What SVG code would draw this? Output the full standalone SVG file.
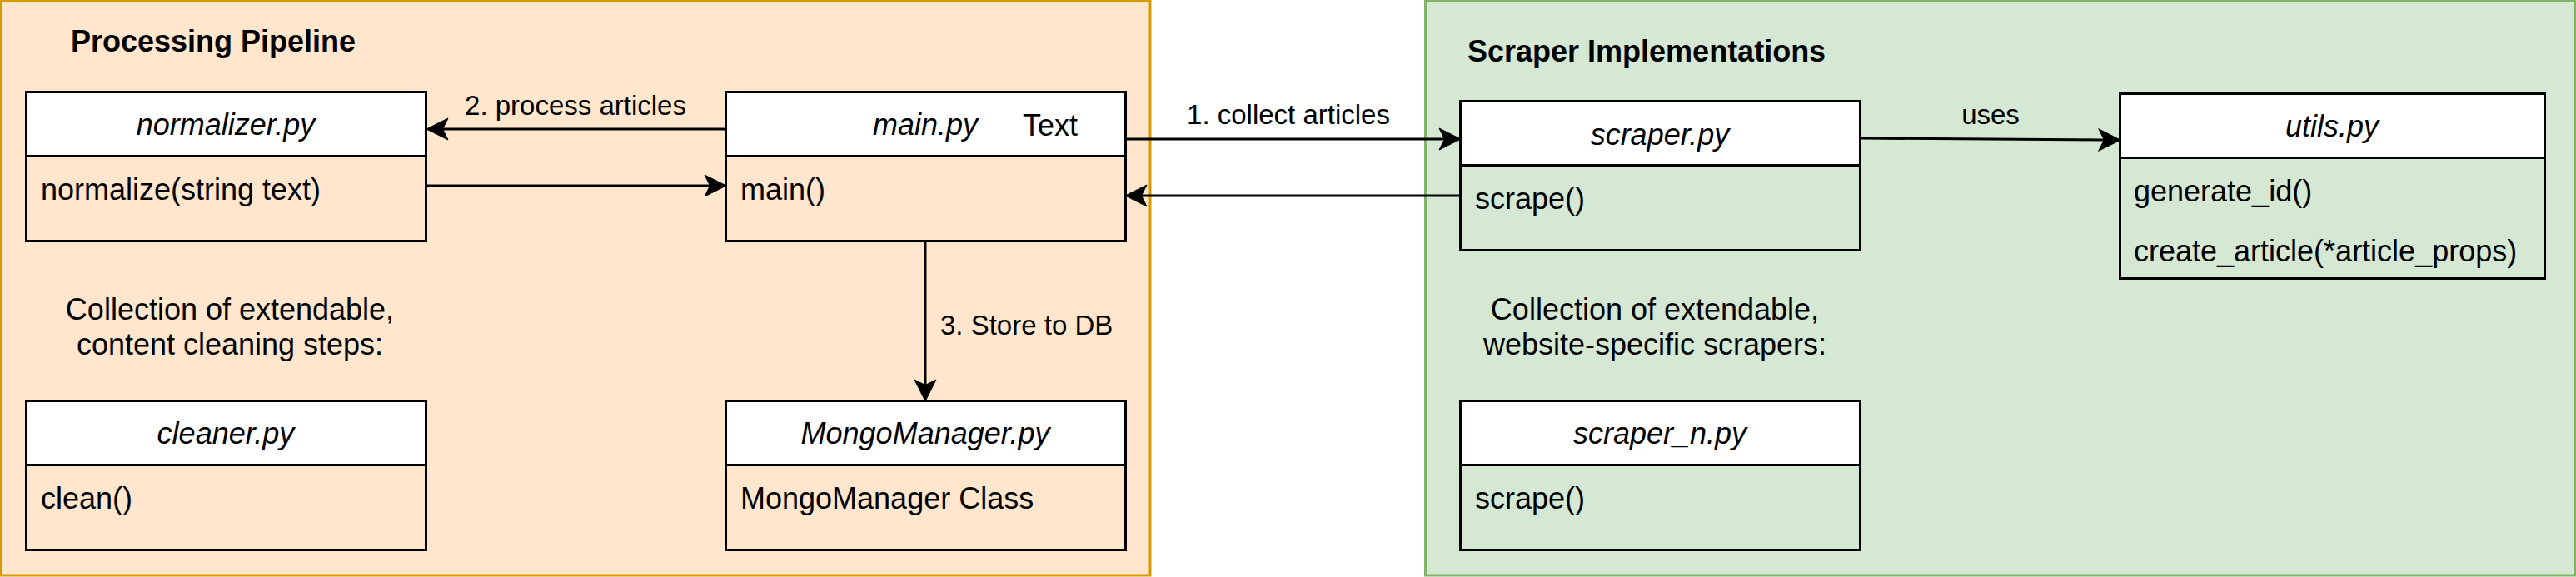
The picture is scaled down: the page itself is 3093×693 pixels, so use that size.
<svg xmlns="http://www.w3.org/2000/svg" width="3093" height="693" viewBox="0 0 3093 693">
<style>
text{font-family:"Liberation Sans",Arial,Helvetica,sans-serif;fill:#000;}
.t36{font-size:36px;}
.t33{font-size:33px;}
.b{font-weight:bold;}
.i{font-style:italic;}
.mid{text-anchor:middle;}
.hdr{fill:#fff;stroke:#000;stroke-width:3;}
.body{fill:none;stroke:#000;stroke-width:3;}
.edge{fill:none;stroke:#000;stroke-width:3;}
</style>
<defs>
<marker id="arr" markerUnits="userSpaceOnUse" markerWidth="28" markerHeight="28" viewBox="0 0 28 28" refX="7" refY="14" orient="auto">
<path d="M27,14 L1,1 L7.5,14 L1,27 Z" fill="#000" stroke="#000" stroke-width="1"/>
</marker>
</defs>
<g id="container-pipeline">
<rect x="1.5" y="1.5" width="1379.5" height="689.5" fill="#ffe6cc" stroke="#d79b00" stroke-width="3"/>
<text class="t36 b" x="85" y="62">Processing Pipeline</text>
<text class="t36 mid" x="276" y="384">Collection of extendable,</text>
<text class="t36 mid" x="276" y="426">content cleaning steps:</text>
</g>
<g id="container-scrapers">
<rect x="1711.5" y="1.5" width="1380" height="689.5" fill="#d5e8d4" stroke="#82b366" stroke-width="3"/>
<text class="t36 b" x="1762" y="74">Scraper Implementations</text>
<text class="t36 mid" x="1987" y="384">Collection of extendable,</text>
<text class="t36 mid" x="1987" y="426">website-specific scrapers:</text>
</g>
<g id="node-normalizer">
<rect class="body" x="31.5" y="110.5" width="480" height="179"/>
<rect class="hdr" x="31.5" y="110.5" width="480" height="77"/>
<text class="t36 i mid" x="271" y="162">normalizer.py</text>
<text class="t36" x="49" y="240">normalize(string text)</text>
</g>
<g id="node-main">
<rect class="body" x="871.5" y="110.5" width="480" height="179"/>
<rect class="hdr" x="871.5" y="110.5" width="480" height="77"/>
<text class="t36 i mid" x="1111" y="162">main.py</text>
<text class="t36 mid" x="1261" y="163">Text</text>
<text class="t36" x="889" y="240">main()</text>
</g>
<g id="node-cleaner">
<rect class="body" x="31.5" y="481.5" width="480" height="179"/>
<rect class="hdr" x="31.5" y="481.5" width="480" height="77"/>
<text class="t36 i mid" x="271" y="533">cleaner.py</text>
<text class="t36" x="49" y="611">clean()</text>
</g>
<g id="node-mongomanager">
<rect class="body" x="871.5" y="481.5" width="480" height="179"/>
<rect class="hdr" x="871.5" y="481.5" width="480" height="77"/>
<text class="t36 i mid" x="1111" y="533">MongoManager.py</text>
<text class="t36" x="889" y="611">MongoManager Class</text>
</g>
<g id="node-scraper">
<rect class="body" x="1753.5" y="121.5" width="480" height="179"/>
<rect class="hdr" x="1753.5" y="121.5" width="480" height="77"/>
<text class="t36 i mid" x="1993" y="174">scraper.py</text>
<text class="t36" x="1771" y="251">scrape()</text>
</g>
<g id="node-scraper-n">
<rect class="body" x="1753.5" y="481.5" width="480" height="179"/>
<rect class="hdr" x="1753.5" y="481.5" width="480" height="77"/>
<text class="t36 i mid" x="1993" y="533">scraper_n.py</text>
<text class="t36" x="1771" y="611">scrape()</text>
</g>
<g id="node-utils">
<rect class="body" x="2545.5" y="112.5" width="510" height="222"/>
<rect class="hdr" x="2545.5" y="112.5" width="510" height="77"/>
<text class="t36 i mid" x="2800" y="164">utils.py</text>
<text class="t36" x="2562" y="242">generate_id()</text>
<text class="t36" x="2562" y="314">create_article(*article_props)</text>
</g>
<g id="connectors">
<path class="edge" d="M871,155 L532,155" marker-end="url(#arr)"/>
<text class="t33 mid" x="691" y="138">2. process articles</text>
<path class="edge" d="M511,223 L852,223" marker-end="url(#arr)"/>
<path class="edge" d="M1351,167 L1734,167" marker-end="url(#arr)"/>
<text class="t33 mid" x="1547" y="149">1. collect articles</text>
<path class="edge" d="M1753,235 L1371,235" marker-end="url(#arr)"/>
<path class="edge" d="M2233,166 L2526,168" marker-end="url(#arr)"/>
<text class="t33 mid" x="2390" y="149">uses</text>
<path class="edge" d="M1111,289 L1111,462" marker-end="url(#arr)"/>
<text class="t33" x="1129" y="402">3. Store to DB</text>
</g>
</svg>
